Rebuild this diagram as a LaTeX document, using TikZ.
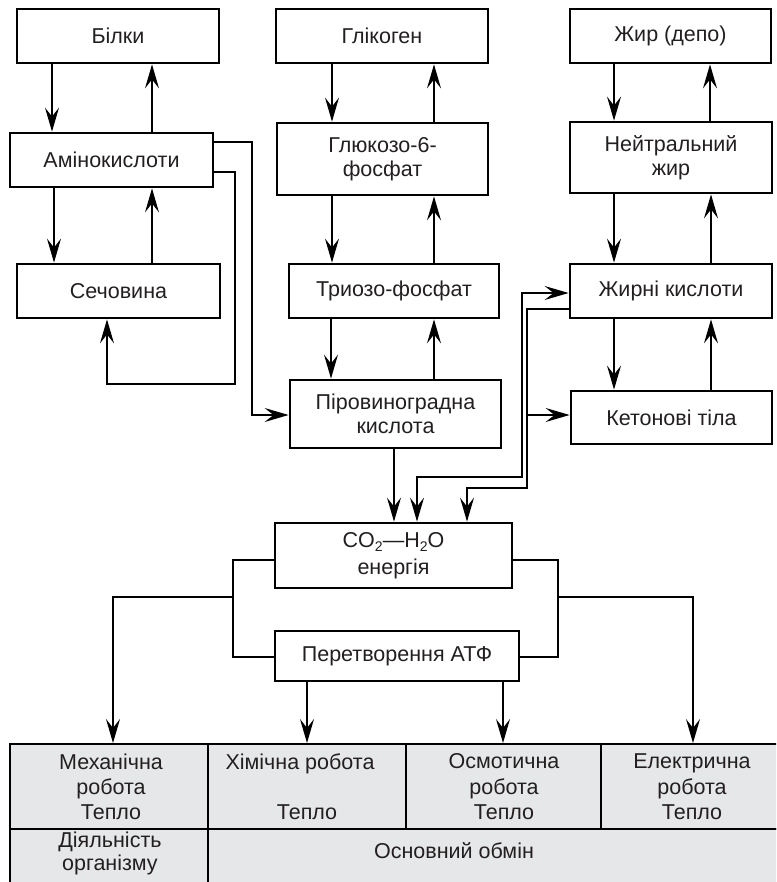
\documentclass[tikz,border=0pt]{standalone}
\usepackage{fontspec}
\setmainfont{Liberation Sans}
\usetikzlibrary{arrows.meta}
\definecolor{cellgray}{HTML}{E6E7E8}
\definecolor{ink}{HTML}{231F20}
\newcommand\dfont{\fontsize{21.5}{24}\selectfont}
\newcommand\lowsub[1]{\raisebox{-4.5pt}{\fontsize{14}{14}\selectfont #1}}
\begin{document}
\begin{tikzpicture}[x=1pt,y=-1pt,
  >={Stealth[length=24pt,width=14pt,inset=9pt]},
  box/.style={draw,line width=2.8pt,inner sep=0pt,align=center,font=\dfont,text=ink},
  conn/.style={line width=1.2pt},
  brk/.style={line width=2.8pt},
  cell/.style={draw,line width=2pt,fill=cellgray,inner sep=0pt},
  txt/.style={font=\dfont,inner sep=0pt,anchor=base,text=ink}]
\useasboundingbox (0,0) rectangle (776,882);
\clip (0,0) rectangle (776,882);

% ---------- table ----------
\node[cell,minimum width=198pt,minimum height=85pt] (t1) at (109,786.5) {};
\node[cell,minimum width=198pt,minimum height=85pt] (t2) at (307,786.5) {};
\node[cell,minimum width=195pt,minimum height=85pt] (t3) at (503.5,786.5) {};
\node[cell,minimum width=189pt,minimum height=85pt] (t4) at (695.5,786.5) {};
\node[cell,minimum width=198pt,minimum height=71pt] (t5) at (109,864.5) {};
\node[cell,minimum width=582pt,minimum height=71pt] (t6) at (499,864.5) {};

\node[txt] (m1) at (111,769) {Механічна};
\node[txt] (m2) at (111,794) {робота};
\node[txt] (m3) at (111,819) {Тепло};
\node[txt] (h1) at (300,769) {Хімічна робота};
\node[txt] (h3) at (307,819) {Тепло};
\node[txt] (o1) at (504,768) {Осмотична};
\node[txt] (o2) at (504,794) {робота};
\node[txt] (o3) at (504,819) {Тепло};
\node[txt] (e1) at (692,768) {Електрична};
\node[txt] (e2) at (692,794) {робота};
\node[txt] (e3) at (692,819) {Тепло};
\node[txt] (d1) at (110,847) {Діяльність};
\node[txt] (d2) at (110,870) {організму};
\node[txt] (ob) at (454,858) {Основний обмін};

% ---------- boxes ----------
\node[box,minimum width=202pt,minimum height=54pt] (bilky) at (118,36) {Білки};
\node[box,minimum width=203pt,minimum height=54pt] (amino) at (111.5,160) {Амінокислоти};
\node[box,minimum width=203pt,minimum height=54pt] (sech) at (118.5,291) {Сечовина};
\node[box,minimum width=212pt,minimum height=54pt] (glik) at (382,36) {Глікоген};
\node[box,minimum width=211pt,minimum height=72pt] (gluk) at (382.5,159) {Глюкозо-6-\\фосфат};
\node[box,minimum width=210pt,minimum height=54pt] (trioz) at (394,291) {Триозо-фосфат};
\node[box,minimum width=211pt,minimum height=68pt] (piro) at (395.5,414) {Піровиноградна\\кислота};
\node[box,minimum width=201pt,minimum height=54pt] (zhyr) at (670.5,36) {Жир (депо)};
\node[box,minimum width=202pt,minimum height=71pt] (neutr) at (671,157.5) {Нейтральний\\жир};
\node[box,minimum width=202pt,minimum height=54pt] (fatac) at (671,291) {Жирні кислоти};
\node[box,minimum width=201pt,minimum height=53pt] (keton) at (671.5,417.5) {Кетонові тіла};
\node[box,minimum width=237pt,minimum height=65pt] (co2) at (393.5,555.5) {CO\lowsub{2}—H\lowsub{2}O\\[3pt]енергія};
\node[box,minimum width=244pt,minimum height=50pt] (atp) at (397,656) {Перетворення АТФ};

% ---------- vertical pairs ----------
\draw[conn,->] (bilky.south -| 52,0) -- (amino.north -| 52,0);
\draw[conn,->] (amino.north -| 152,0) -- (bilky.south -| 152,0);
\draw[conn,->] (amino.south -| 54,0) -- (sech.north -| 54,0);
\draw[conn,->] (sech.north -| 152,0) -- (amino.south -| 152,0);

\draw[conn,->] (glik.south -| 332,0) -- (gluk.north -| 332,0);
\draw[conn,->] (gluk.north -| 434,0) -- (glik.south -| 434,0);
\draw[conn,->] (gluk.south -| 332,0) -- (trioz.north -| 332,0);
\draw[conn,->] (trioz.north -| 434,0) -- (gluk.south -| 434,0);
\draw[conn,->] (trioz.south -| 331,0) -- (piro.north -| 331,0);
\draw[conn,->] (piro.north -| 434,0) -- (trioz.south -| 434,0);

\draw[conn,->] (zhyr.south -| 614,0) -- (neutr.north -| 614,0);
\draw[conn,->] (neutr.north -| 710,0) -- (zhyr.south -| 710,0);
\draw[conn,->] (neutr.south -| 614,0) -- (fatac.north -| 614,0);
\draw[conn,->] (fatac.north -| 711,0) -- (neutr.south -| 711,0);
\draw[conn,->] (fatac.south -| 614,0) -- (keton.north -| 614,0);
\draw[conn,->] (keton.north -| 711,0) -- (fatac.south -| 711,0);

% ---------- routed connectors ----------
\draw[conn,->] (amino.east |- 0,142) -- (252,142) -- (252,415) -- (piro.west |- 0,415);
\draw[conn,->] (amino.east |- 0,172) -- (235,172) -- (235,384) -- (107,384) -- (sech.south -| 107,0);
\draw[conn,->] (piro.south -| 394,0) -- (co2.north -| 394,0);
\draw[conn,<->] (co2.north -| 417,0) -- (417,477) -- (522,477) -- (522,293) -- (fatac.west |- 0,293);
\draw[conn,->] (fatac.west |- 0,309) -- (527,309) -- (527,488) -- (467,488) -- (co2.north -| 467,0);
\coordinate (br) at (527,415);
\draw[conn,->] (br) -- (keton.west |- br);

% ---------- brackets and outputs ----------
\coordinate (lb) at (233,657);
\coordinate (rb) at (558,657);
\coordinate (lj) at (233,597);
\coordinate (rj) at (558,597);
\draw[brk] (co2.west |- 0,560) -| (lb) -- (atp.west |- lb);
\draw[brk] (co2.east |- 0,560) -| (rb) -- (atp.east |- rb);
\draw[conn,->] (lj) -| (t1.north -| 113,0);
\draw[conn,->] (rj) -| (t4.north -| 693,0);
\draw[conn,->] (atp.south -| 307,0) -- (t2.north -| 307,0);
\draw[conn,->] (atp.south -| 503,0) -- (t3.north -| 503,0);
\end{tikzpicture}
\end{document}
